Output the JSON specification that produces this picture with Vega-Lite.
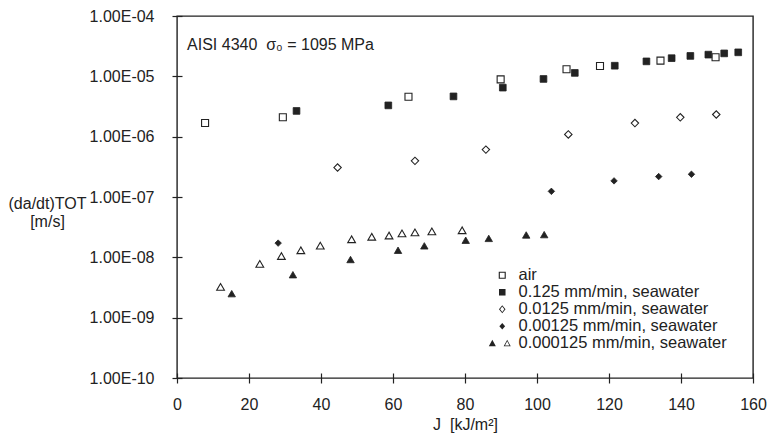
{
  "$schema": "https://vega.github.io/schema/vega-lite/v6.json",
  "width": 576,
  "height": 362,
  "autosize": {"type": "none"},
  "padding": {"left": 177, "top": 16, "right": 25, "bottom": 61},
  "background": "white",
  "config": {
    "view": {"stroke": "#222", "strokeWidth": 1.4},
    "font": "Liberation Sans",
    "axis": {
      "grid": false, "domain": false, "tickColor": "#222", "tickSize": 10, "tickWidth": 1.2, "offset": -5,
      "labelFont": "Liberation Sans", "labelFontSize": 16, "labelColor": "#222",
      "titleFont": "Liberation Sans", "titleFontSize": 16, "titleFontWeight": "normal", "titleColor": "#222"
    },
    "legend": {
      "labelFont": "Liberation Sans", "labelFontSize": 16.5, "labelColor": "#222"
    }
  },
  "data": {
    "values": [
      {"series": "air", "J": 7.8, "rate": 1.68e-6},
      {"series": "air", "J": 29.4, "rate": 2.1e-6},
      {"series": "air", "J": 64.3, "rate": 4.6e-6},
      {"series": "air", "J": 89.9, "rate": 8.9e-6},
      {"series": "air", "J": 108.2, "rate": 1.31e-5},
      {"series": "air", "J": 117.5, "rate": 1.48e-5},
      {"series": "air", "J": 134.3, "rate": 1.82e-5},
      {"series": "air", "J": 149.6, "rate": 2.07e-5},
      {"series": "0.125", "J": 33.2, "rate": 2.67e-6},
      {"series": "0.125", "J": 58.7, "rate": 3.3e-6},
      {"series": "0.125", "J": 76.8, "rate": 4.65e-6},
      {"series": "0.125", "J": 90.5, "rate": 6.5e-6},
      {"series": "0.125", "J": 101.8, "rate": 9.05e-6},
      {"series": "0.125", "J": 110.5, "rate": 1.14e-5},
      {"series": "0.125", "J": 121.6, "rate": 1.5e-5},
      {"series": "0.125", "J": 130.4, "rate": 1.77e-5},
      {"series": "0.125", "J": 137.4, "rate": 2.0e-5},
      {"series": "0.125", "J": 142.6, "rate": 2.18e-5},
      {"series": "0.125", "J": 147.6, "rate": 2.29e-5},
      {"series": "0.125", "J": 152.0, "rate": 2.4e-5},
      {"series": "0.125", "J": 155.9, "rate": 2.5e-5},
      {"series": "0.0125", "J": 44.6, "rate": 3.08e-7},
      {"series": "0.0125", "J": 66.1, "rate": 3.97e-7},
      {"series": "0.0125", "J": 85.8, "rate": 6.1e-7},
      {"series": "0.0125", "J": 108.7, "rate": 1.09e-6},
      {"series": "0.0125", "J": 127.2, "rate": 1.68e-6},
      {"series": "0.0125", "J": 139.8, "rate": 2.09e-6},
      {"series": "0.0125", "J": 149.8, "rate": 2.33e-6},
      {"series": "0.00125", "J": 28.1, "rate": 1.72e-8},
      {"series": "0.00125", "J": 104.0, "rate": 1.24e-7},
      {"series": "0.00125", "J": 121.4, "rate": 1.85e-7},
      {"series": "0.00125", "J": 133.8, "rate": 2.18e-7},
      {"series": "0.00125", "J": 142.9, "rate": 2.38e-7},
      {"series": "0.000125 open", "J": 12.1, "rate": 3.23e-9},
      {"series": "0.000125 open", "J": 23.0, "rate": 7.8e-9},
      {"series": "0.000125 open", "J": 29.0, "rate": 1.05e-8},
      {"series": "0.000125 open", "J": 34.4, "rate": 1.31e-8},
      {"series": "0.000125 open", "J": 39.8, "rate": 1.56e-8},
      {"series": "0.000125 open", "J": 48.5, "rate": 1.99e-8},
      {"series": "0.000125 open", "J": 54.1, "rate": 2.19e-8},
      {"series": "0.000125 open", "J": 58.9, "rate": 2.3e-8},
      {"series": "0.000125 open", "J": 62.5, "rate": 2.49e-8},
      {"series": "0.000125 open", "J": 66.1, "rate": 2.59e-8},
      {"series": "0.000125 open", "J": 70.8, "rate": 2.69e-8},
      {"series": "0.000125 open", "J": 79.2, "rate": 2.81e-8},
      {"series": "0.000125 filled", "J": 15.2, "rate": 2.5e-9},
      {"series": "0.000125 filled", "J": 32.2, "rate": 5.15e-9},
      {"series": "0.000125 filled", "J": 48.2, "rate": 9.2e-9},
      {"series": "0.000125 filled", "J": 61.4, "rate": 1.31e-8},
      {"series": "0.000125 filled", "J": 68.7, "rate": 1.55e-8},
      {"series": "0.000125 filled", "J": 80.2, "rate": 1.92e-8},
      {"series": "0.000125 filled", "J": 86.6, "rate": 2.06e-8},
      {"series": "0.000125 filled", "J": 97.0, "rate": 2.35e-8},
      {"series": "0.000125 filled", "J": 102.0, "rate": 2.38e-8},
      {"series": "note", "J": 2.8, "rate": 3.3e-5, "label": "AISI 4340\u00a0\u00a0σ₀ = 1095 MPa"}
    ]
  },
  "encoding": {
    "x": {
      "field": "J", "type": "quantitative",
      "scale": {"domain": [0, 160], "nice": false, "zero": false},
      "axis": {"values": [0, 20, 40, 60, 80, 100, 120, 140, 160], "labelPadding": 13, "title": "J\u00a0\u00a0[kJ/m²]", "titlePadding": 4, "labelFlush": false}
    },
    "y": {
      "field": "rate", "type": "quantitative",
      "scale": {"type": "log", "domain": [1e-10, 1e-4], "nice": false},
      "axis": {
        "values": [1e-10, 1e-9, 1e-8, 1e-7, 1e-6, 1e-5, 1e-4],
        "labelExpr": "'1.00E-' + (round(-log(datum.value)/LN10) < 10 ? '0' : '') + round(-log(datum.value)/LN10)",
        "labelPadding": 18, "labelFlush": false,
        "title": ["(da/dt)TOT", "[m/s]"], "titleAngle": 0, "titleAlign": "center", "titleBaseline": "middle",
        "titleX": -135, "titleY": 187, "titleLineHeight": 18
      }
    }
  },
  "layer": [
    {
      "transform": [{"filter": "datum.series == 'air'"}],
      "mark": {"type": "point", "shape": "square", "size": 49, "fill": "white", "stroke": "#222", "strokeWidth": 1.1, "opacity": 1}
    },
    {
      "transform": [{"filter": "datum.series == '0.125'"}],
      "mark": {"type": "point", "shape": "square", "size": 45, "fill": "#222", "stroke": "#222", "strokeWidth": 0.8, "opacity": 1}
    },
    {
      "transform": [{"filter": "datum.series == '0.0125'"}],
      "mark": {"type": "point", "shape": "diamond", "size": 55, "fill": "white", "stroke": "#222", "strokeWidth": 1.1, "opacity": 1}
    },
    {
      "transform": [{"filter": "datum.series == '0.00125'"}],
      "mark": {"type": "point", "shape": "diamond", "size": 42, "fill": "#222", "stroke": "#222", "strokeWidth": 0.8, "opacity": 1}
    },
    {
      "transform": [{"filter": "datum.series == '0.000125 open'"}],
      "mark": {"type": "point", "shape": "triangle-up", "size": 60, "fill": "white", "stroke": "#222", "strokeWidth": 1.1, "opacity": 1}
    },
    {
      "transform": [{"filter": "datum.series == '0.000125 filled'"}],
      "mark": {"type": "point", "shape": "triangle-up", "size": 55, "fill": "#222", "stroke": "#222", "strokeWidth": 0.8, "opacity": 1}
    },
    {
      "transform": [{"filter": "datum.series == 'note'"}],
      "mark": {"type": "text", "align": "left", "baseline": "middle", "fontSize": 16, "font": "Liberation Sans", "color": "#222"},
      "encoding": {"text": {"field": "label"}}
    },
    {
      "transform": [{"filter": "false"}],
      "mark": {"type": "point", "filled": true, "color": "#222", "opacity": 1, "strokeWidth": 0},
      "encoding": {
        "shape": {
          "field": "legendLabel", "type": "nominal",
          "scale": {
            "domain": ["air", "0.125 mm/min, seawater", "0.0125 mm/min, seawater", "0.00125 mm/min, seawater", "0.000125 mm/min, seawater"],
            "range": [
              "M-0.44,-0.44H0.44V0.44H-0.44Z M-0.3,-0.3V0.3H0.3V-0.3Z",
              "M-0.41,-0.41H0.41V0.41H-0.41Z",
              "M0,-0.5L0.41,0L0,0.5L-0.41,0Z M0,-0.33L-0.26,0L0,0.33L0.26,0Z",
              "M0,-0.41L0.36,0L0,0.41L-0.36,0Z",
              "M-1.68,0.39L-0.8,0.39L-1.24,-0.44Z M0.18,0.39L1.06,0.39L0.62,-0.44Z M0.34,0.28L0.62,-0.25L0.9,0.28Z"
            ]
          },
          "legend": {
            "title": null, "orient": "none", "legendX": 317, "legendY": 251,
            "symbolSize": 256, "symbolFillColor": "#222", "symbolStrokeWidth": 0, "symbolOpacity": 1,
            "labelOffset": 8, "rowPadding": 0, "padding": 0, "labelLimit": 400
          }
        }
      }
    }
  ]
}
